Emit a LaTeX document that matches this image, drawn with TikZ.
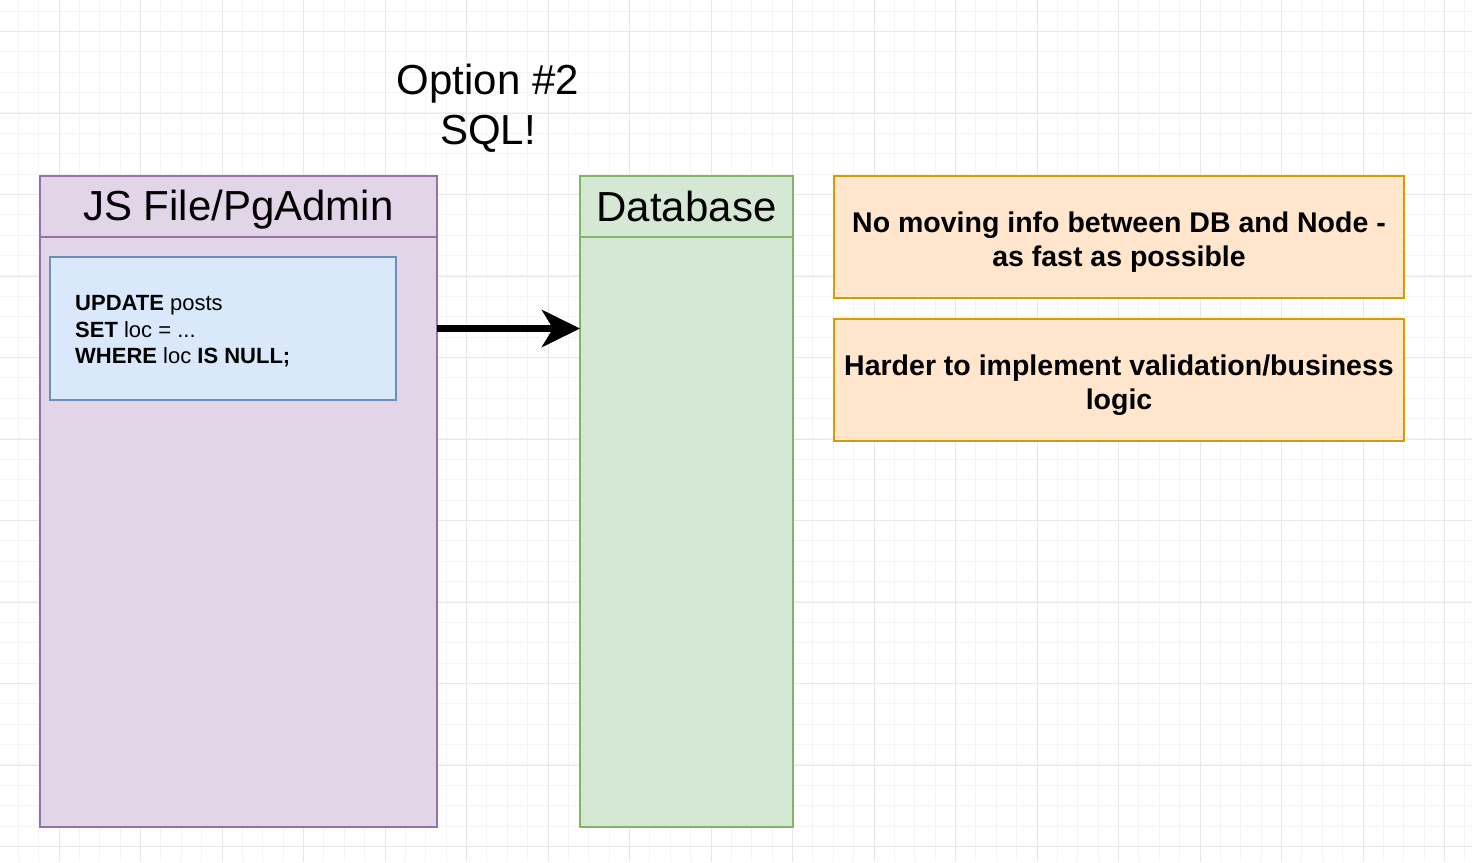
\documentclass[tikz,border=0pt]{standalone}
\usepackage{fontspec}
\setmainfont{Liberation Sans}
\usetikzlibrary{positioning}
\usetikzlibrary{arrows.meta}
\definecolor{jsfill}{HTML}{E1D5E7}
\definecolor{jsline}{HTML}{9673A6}
\definecolor{sqlfill}{HTML}{DAE8FC}
\definecolor{sqlline}{HTML}{6C8EBF}
\definecolor{dbfill}{HTML}{D5E8D4}
\definecolor{dbline}{HTML}{82B366}
\definecolor{notefill}{HTML}{FFE6CC}
\definecolor{noteline}{HTML}{D79B00}
\definecolor{gridminor}{HTML}{F4F4F4}
\definecolor{gridmajor}{HTML}{E8E8E8}
\tikzset{lane/.style={rectangle, line width=2pt, inner sep=0pt, outer sep=0pt, anchor=north west}}
\tikzset{lanehead/.style={rectangle, line width=2pt, inner sep=0pt, outer sep=0pt,
   minimum height=61pt, font=\fontsize{42}{50.4}\selectfont}}
\tikzset{note/.style={rectangle, line width=2pt, fill=notefill, draw=noteline,
   minimum width=570pt, minimum height=122pt, inner sep=0pt, outer sep=0pt, align=center,
   text height=65pt, font=\fontsize{28.5}{33.6}\selectfont\bfseries}}
\tikzset{flow/.style={line width=7pt, -{Stealth[length=38pt, width=37pt, inset=11pt]}}}

\begin{document}
\begin{tikzpicture}[x=1pt, y=-1pt]

    \fill[white] (0,0) rectangle (1472,862);
    \useasboundingbox (0,0) rectangle (1472,862);

    % background grid
    \foreach \i in {0,...,71}
      \draw[gridminor, line width=1pt] ({18.25+20.375*\i},0) -- ++(0,862);
    \foreach \j in {0,...,41}
      \draw[gridminor, line width=1pt] (0,{11.1+20.375*\j}) -- ++(1472,0);
    \foreach \i in {0,...,17}
      \draw[gridmajor, line width=1pt] ({59+81.5*\i},0) -- ++(0,862);
    \foreach \j in {-1,...,9}
      \draw[gridmajor, line width=1pt] (0,{113+81.5*\j}) -- ++(1472,0);

    \node[align=center, font=\fontsize{42}{50.4}\selectfont] (title) at (488,108)
      {Option \#2\\SQL!};

    \node[lane, fill=jsfill, draw=jsline, minimum width=397pt, minimum height=651pt]
      (js) at (40,176) {};
    \node[lanehead, draw=jsline, minimum width=397pt, anchor=north, text depth=3pt]
      (jshead) at (js.north) {JS File/PgAdmin};

    \node[lane, fill=dbfill, draw=dbline, minimum width=213pt, minimum height=651pt]
      (db) at ([xshift=143pt]js.north east) {};
    \node[lanehead, draw=dbline, minimum width=213pt, anchor=north]
      (dbhead) at (db.north) {Database};

    \node[lane, fill=sqlfill, draw=sqlline, minimum width=346pt, minimum height=143pt]
      (code) at ([shift={(10pt,-81pt)}]js.north west) {};
    \node[anchor=west, align=left, inner sep=0pt, font=\fontsize{22}{26.4}\selectfont]
      (codetext) at ([xshift=25pt, yshift=-3pt]code.west)
      {\textbf{UPDATE} posts\\\textbf{SET} loc = ...\\\textbf{WHERE} loc \textbf{IS NULL;}};

    \draw[flow] (js.east |- code.east) -- (db.west |- code.east);

    \node[note, anchor=north west] (fast) at ([xshift=41pt]db.north east)
      {No moving info between DB and Node -\\as fast as possible};
    \node[note, below=21pt of fast] (logic)
      {Harder to implement validation/business\\logic};

\end{tikzpicture}
\end{document}
